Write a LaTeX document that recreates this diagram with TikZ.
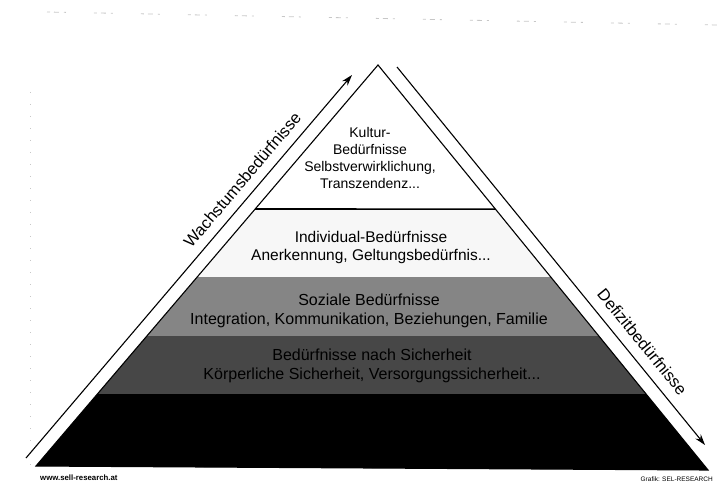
\documentclass[tikz,border=0pt]{standalone}
\usepackage{fontspec}
\setmainfont{Liberation Sans}
\usetikzlibrary{arrows.meta,calc}
\begin{document}
\begin{tikzpicture}[x=1pt,y=-1pt,
  lvltext/.style={align=center, inner sep=0pt},
  topfont/.style={font=\fontsize{14}{17}\selectfont},
  midfont/.style={font=\fontsize{15.5}{18}\selectfont},
  lowfont/.style={font=\fontsize{16}{19}\selectfont},
  sidelabel/.style={font=\fontsize{16.5}{18}\selectfont, inner sep=0pt, sloped, anchor=south},
  axisarrow/.style={line width=1.1pt, -{Stealth[length=11pt,width=7pt]}},
  foot/.style={inner sep=0pt},
  scannoise/.style={black!22, line width=0.8pt}]
\useasboundingbox (0,0) rectangle (717,486);

% faint marks along the page edges
\draw[scannoise, dash pattern=on 3pt off 4pt on 5pt off 5pt on 2pt off 28pt] (47,12) -- (717,25);
\draw[scannoise, dash pattern=on 1pt off 11pt] (30,92) -- (30,470);

% pyramid corners
\coordinate (apex) at (378,65);
\coordinate (bl) at (36,466);
\coordinate (br) at (708,470);

% level bands
\begin{scope}
  \clip (apex) -- (bl) -- (br) -- cycle;
  \fill[white]    (0,0)   rectangle (717,209);
  \fill[black!3]  (0,209) rectangle (717,277);
  \fill[black!48] (0,277) rectangle (717,336);
  \fill[black!72] (0,336) rectangle (717,394);
  \fill[black]    (0,394) rectangle (717,486);
\end{scope}

% outline and top divider
\draw[line width=1.1pt, line join=miter] (apex) -- (bl) -- (br) -- cycle;
\coordinate (divl) at ($(apex)!0.359!(bl)$);
\coordinate (divr) at ($(apex)!0.356!(br)$);
\draw[line width=1.6pt] (divl) -- (divr);

% level texts
\node[lvltext, topfont] (kultur) at (370,158)
  {Kultur-\\Bedürfnisse\\Selbstverwirklichung,\\Transzendenz...};
\node[lvltext, midfont] (individual) at (371,247)
  {Individual-Bedürfnisse\\Anerkennung, Geltungsbedürfnis...};
\node[lvltext, lowfont] (sozial) at (369,311)
  {Soziale Bedürfnisse\\Integration, Kommunikation, Beziehungen, Familie};
\node[lvltext, lowfont, text=black] (sicherheit) at (372,366)
  {Bedürfnisse nach Sicherheit\\Körperliche Sicherheit, Versorgungssicherheit...};

% side arrows
\coordinate (wstart) at (26,458);
\coordinate (wend) at (352,75);
\coordinate (dstart) at (397,67);
\coordinate (dend) at (705,445);
\draw[axisarrow] (wstart) -- (wend)
  node[sidelabel, pos=0.70, yshift=9pt] (wachstum) {Wachstumsbedürfnisse};
\draw[axisarrow] (dstart) -- (dend)
  node[sidelabel, pos=0.755, yshift=10pt] (defizit) {Defizitbedürfnisse};

% footer
\node[foot, anchor=west, font=\fontsize{7.8}{9}\selectfont\bfseries] (url) at (40,478) {www.sell-research.at};
\node[foot, anchor=east, font=\fontsize{6.5}{8}\selectfont] (credit) at (713,479) {Grafik: SEL-RESEARCH};
\end{tikzpicture}
\end{document}
